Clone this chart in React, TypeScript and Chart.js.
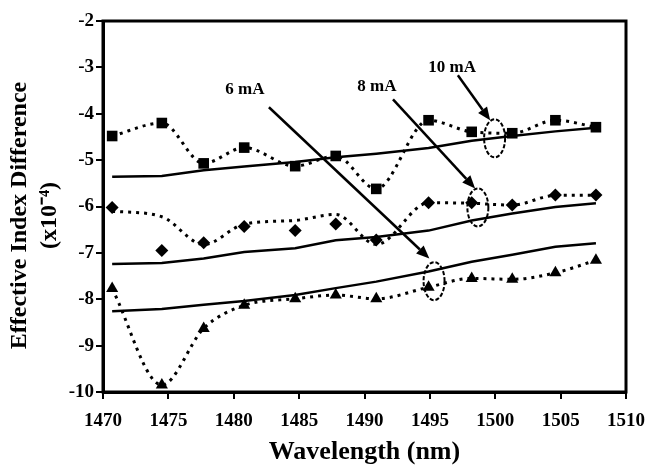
import { useEffect, useRef } from 'react';
import { Chart, registerables } from 'chart.js';
Chart.register(...registerables);

// ---- data ----
const wavelengths = [1470.7, 1474.5, 1477.7, 1480.8, 1484.7, 1487.8, 1490.9, 1494.9, 1498.2, 1501.3, 1504.6, 1507.7];
const points10mA = [-4.48, -4.2, -5.07, -4.73, -5.13, -4.91, -5.62, -4.14, -4.39, -4.42, -4.14, -4.29];
const points8mA = [-6.02, -6.95, -6.78, -6.43, -6.52, -6.38, -6.72, -5.92, -5.92, -5.97, -5.75, -5.75];
const curve8mA = [-6.1, -6.22, -6.82, -6.38, -6.3, -6.17, -6.82, -5.92, -5.93, -5.97, -5.76, -5.76];
const points6mA = [-7.77, -9.85, -8.63, -8.13, -7.99, -7.91, -7.99, -7.74, -7.55, -7.57, -7.43, -7.16];
const fit10mA = [-5.36, -5.34, -5.22, -5.14, -5.04, -4.94, -4.86, -4.74, -4.58, -4.48, -4.38, -4.3];
const fit8mA = [-7.24, -7.22, -7.12, -6.98, -6.9, -6.73, -6.66, -6.52, -6.3, -6.15, -6.01, -5.93];
const fit6mA = [-8.26, -8.21, -8.12, -8.04, -7.91, -7.76, -7.62, -7.4, -7.19, -7.04, -6.87, -6.79];

const xTicks = [1470, 1475, 1480, 1485, 1490, 1495, 1500, 1505, 1510];
const yTicks = [-10, -9, -8, -7, -6, -5, -4, -3, -2];

const currentLabels = ['6 mA', '8 mA', '10 mA'];
const labelX = [1480.85, 1490.95, 1496.7];
const labelY = [-3.49, -3.41, -3.0];
const arrowFromX = [1482.69, 1492.18, 1497.14];
const arrowFromY = [-3.86, -3.69, -3.17];
const arrowToX = [1494.96, 1498.46, 1499.61];
const arrowToY = [-7.12, -5.61, -4.14];
const circleX = [1495.32, 1498.67, 1499.95];
const circleY = [-7.61, -6.02, -4.53];

const xTitle = 'Wavelength (nm)';
const yTitle = ['Effective Index Difference\u00A0\u00A0\u00A0', '(x10\u207B\u2074)\u00A0\u00A0\u00A0'];

const FONT = "'Liberation Serif', 'Times New Roman', serif";

const toXY = (ys: number[]) => ys.map((y, i) => ({ x: wavelengths[i], y }));

const annotationPlugin = {
  id: 'annotations',
  afterDatasetsDraw(chart: any) {
    const { ctx, chartArea, scales } = chart;
    const xs = scales.x;
    const ys = scales.y;
    ctx.save();
    // frame
    ctx.strokeStyle = '#000';
    ctx.lineWidth = 3;
    ctx.setLineDash([]);
    ctx.strokeRect(chartArea.left, chartArea.top, chartArea.right - chartArea.left, chartArea.bottom - chartArea.top);

    // labels
    ctx.fillStyle = '#000';
    ctx.font = `bold 17px ${FONT}`;
    ctx.textAlign = 'center';
    ctx.textBaseline = 'middle';
    currentLabels.forEach((t, i) => {
      ctx.fillText(t, xs.getPixelForValue(labelX[i]), ys.getPixelForValue(labelY[i]));
    });

    // arrows
    for (let i = 0; i < arrowFromX.length; i++) {
      const x1 = xs.getPixelForValue(arrowFromX[i]);
      const y1 = ys.getPixelForValue(arrowFromY[i]);
      const x2 = xs.getPixelForValue(arrowToX[i]);
      const y2 = ys.getPixelForValue(arrowToY[i]);
      const ang = Math.atan2(y2 - y1, x2 - x1);
      const headLen = 13;
      const headW = 5.5;
      const bx = x2 - headLen * Math.cos(ang);
      const by = y2 - headLen * Math.sin(ang);
      ctx.lineWidth = 2.5;
      ctx.beginPath();
      ctx.moveTo(x1, y1);
      ctx.lineTo(bx, by);
      ctx.stroke();
      ctx.beginPath();
      ctx.moveTo(x2, y2);
      ctx.lineTo(bx + headW * Math.sin(ang), by - headW * Math.cos(ang));
      ctx.lineTo(bx - headW * Math.sin(ang), by + headW * Math.cos(ang));
      ctx.closePath();
      ctx.fill();
    }

    // dashed ellipses
    ctx.lineWidth = 2;
    ctx.setLineDash([4, 2]);
    for (let i = 0; i < circleX.length; i++) {
      ctx.beginPath();
      ctx.ellipse(xs.getPixelForValue(circleX[i]), ys.getPixelForValue(circleY[i]), 10.5, 19, 0, 0, Math.PI * 2);
      ctx.stroke();
    }
    ctx.restore();
  },
};

export default function App() {
  const ref = useRef<HTMLCanvasElement>(null);
  useEffect(() => {
    if (!ref.current) return;
    const dotted = [3, 5];
    const chart = new Chart(ref.current, {
      type: 'line',
      data: {
        datasets: [
          { label: 'fit 10 mA', data: toXY(fit10mA), borderColor: '#000', borderWidth: 2.5, pointRadius: 0, tension: 0, clip: false },
          { label: 'fit 8 mA', data: toXY(fit8mA), borderColor: '#000', borderWidth: 2.5, pointRadius: 0, tension: 0, clip: false },
          { label: 'fit 6 mA', data: toXY(fit6mA), borderColor: '#000', borderWidth: 2.5, pointRadius: 0, tension: 0, clip: false },
          { label: '10 mA', data: toXY(points10mA), borderColor: '#000', borderWidth: 3, borderDash: dotted, cubicInterpolationMode: 'monotone', pointStyle: 'rect', pointRadius: 7.5, pointBackgroundColor: '#000', pointBorderColor: '#000', pointBorderWidth: 0, clip: false },
          { label: '8 mA curve', data: toXY(curve8mA), borderColor: '#000', borderWidth: 3, borderDash: dotted, cubicInterpolationMode: 'monotone', pointRadius: 0, clip: false },
          { label: '8 mA', data: toXY(points8mA), showLine: false, pointStyle: 'rectRot', pointRadius: 6.5, pointBackgroundColor: '#000', pointBorderColor: '#000', pointBorderWidth: 0, clip: false },
          { label: '6 mA', data: toXY(points6mA), borderColor: '#000', borderWidth: 3, borderDash: dotted, cubicInterpolationMode: 'monotone', pointStyle: 'triangle', pointRadius: 7, pointBackgroundColor: '#000', pointBorderColor: '#000', pointBorderWidth: 0, clip: false },
        ] as any,
      },
      options: {
        animation: false,
        responsive: true,
        maintainAspectRatio: false,
        layout: { padding: { left: 0, top: 21, right: 20, bottom: 0 } },
        plugins: { legend: { display: false }, tooltip: { enabled: false } },
        scales: {
          x: {
            type: 'linear',
            min: 1470,
            max: 1510,
            afterBuildTicks: (s: any) => { s.ticks = xTicks.map((v) => ({ value: v })); },
            afterFit: (s: any) => { s.height = 73; s.paddingLeft = 0; s.paddingRight = 0; },
            grid: { drawOnChartArea: false, drawTicks: true, tickLength: 7, color: '#000', lineWidth: 2 },
            border: { display: true, color: '#000', width: 3 },
            ticks: { color: '#000', font: { family: FONT, size: 19, weight: 'bold' }, padding: 11, maxRotation: 0, autoSkip: false, callback: (v: any) => String(v) },
            title: { display: true, text: xTitle, color: '#000', font: { family: FONT, size: 26, weight: 'bold', lineHeight: 1.0 }, padding: { top: 0, bottom: 0 } },
          },
          y: {
            type: 'linear',
            min: -10,
            max: -2,
            afterBuildTicks: (s: any) => { s.ticks = yTicks.map((v) => ({ value: v })); },
            afterFit: (s: any) => { s.width = 103; s.paddingTop = 0; s.paddingBottom = 0; },
            grid: { drawOnChartArea: false, drawTicks: true, tickLength: 7, color: '#000', lineWidth: 2 },
            border: { display: true, color: '#000', width: 3 },
            ticks: { color: '#000', font: { family: FONT, size: 19, weight: 'bold' }, padding: 2, autoSkip: false, callback: (v: any) => String(v) },
            title: { display: true, text: yTitle, color: '#000', font: { family: FONT, size: 24, weight: 'bold', lineHeight: 1.25 }, padding: { top: 5, bottom: 0 } },
          },
        },
      } as any,
      plugins: [annotationPlugin],
    });
    return () => chart.destroy();
  }, []);
  return (
    <div style={{ position: 'fixed', left: 0, top: 0, width: 646, height: 465, background: '#fff' }}>
      <canvas ref={ref} />
    </div>
  );
}
